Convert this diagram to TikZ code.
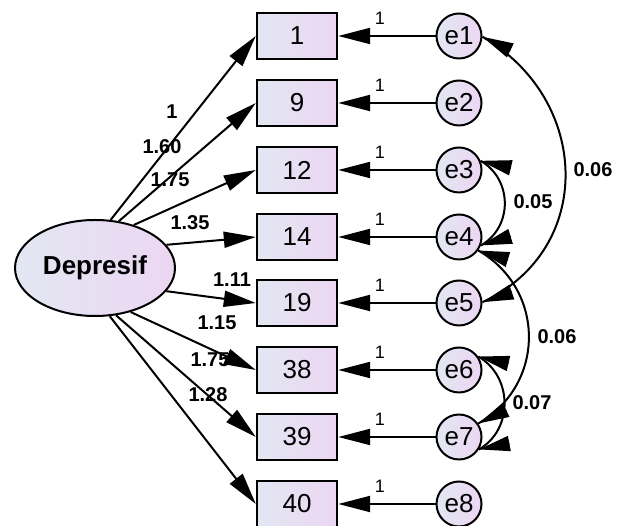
\documentclass[tikz,border=0pt]{standalone}
\usepackage{fontspec}
\setmainfont{Liberation Sans}
\usetikzlibrary{arrows.meta,shapes.geometric}
\definecolor{fillL}{RGB}{226,231,242}
\definecolor{fillR}{RGB}{236,214,242}
\begin{document}
\begin{tikzpicture}[x=1pt,y=1pt,
  obs/.style={draw,line width=2.4pt,minimum width=80pt,minimum height=46pt,inner sep=0pt,left color=fillL,right color=fillR,font=\fontsize{26}{26}\selectfont},
  err/.style={draw,circle,line width=2pt,minimum size=45pt,inner sep=0pt,left color=fillL,right color=fillR,font=\fontsize{26}{26}\selectfont},
  lat/.style={draw,ellipse,line width=2pt,minimum width=160pt,minimum height=96pt,inner sep=0pt,left color=fillL,right color=fillR,font=\bfseries\fontsize{26}{26}\selectfont},
  arr/.style={line width=2pt,-{Triangle[length=32pt,width=16pt]}},
  tip/.style={line width=2pt,-{Triangle[length=31pt,width=15pt]}},
  cov/.style={line width=2pt},
  lbl/.style={font=\bfseries\fontsize{20}{20}\selectfont,inner sep=0pt},
  one/.style={font=\fontsize{18}{18}\selectfont,inner sep=0pt}]
\useasboundingbox (0,0) rectangle (626,526);
% latent
\node[lat] (D) at (95,258) {Depresif};
% observed
\node[obs] (b1) at (297,490) {1};
\node[obs] (b9) at (297,423) {9};
\node[obs] (b12) at (297,356) {12};
\node[obs] (b14) at (297,289) {14};
\node[obs] (b19) at (297,223) {19};
\node[obs] (b38) at (297,156) {38};
\node[obs] (b39) at (297,89) {39};
\node[obs] (b40) at (297,22) {40};
% errors
\node[err] (e1) at (459,490) {e1};
\node[err] (e2) at (459,423) {e2};
\node[err] (e3) at (459,356) {e3};
\node[err] (e4) at (459,289) {e4};
\node[err] (e5) at (459,223) {e5};
\node[err] (e6) at (459,156) {e6};
\node[err] (e7) at (459,89) {e7};
\node[err] (e8) at (459,22) {e8};
% loadings
\draw[arr] (D.72) -- (b1.west);
\draw[arr] (D.63) -- (b9.west);
\draw[arr] (D.48) -- (b12.west);
\draw[arr] (D.18) -- (b14.west);
\draw[arr] (D.-18) -- (b19.west);
\draw[arr] (D.-51) -- (b38.west);
\draw[arr] (D.-66) -- (b39.west);
\draw[arr] (D.-73) -- (b40.west);
% error paths
\foreach \i/\b in {1/1,2/9,3/12,4/14,5/19,6/38,7/39,8/40}{
  \draw[arr] (e\i) -- (b\b);
}
% error path labels
\node[one] (o1) at (380,508) {1};
\node[one] (o2) at (380,441) {1};
\node[one] (o3) at (380,374) {1};
\node[one] (o4) at (380,307) {1};
\node[one] (o5) at (380,241) {1};
\node[one] (o6) at (380,174) {1};
\node[one] (o7) at (380,107) {1};
\node[one] (o8) at (380,40) {1};
% loading labels
\node[lbl] (l1) at (172,414) {1};
\node[lbl] (l9) at (162,379) {1.60};
\node[lbl] (l12) at (170,346) {1.75};
\node[lbl] (l14) at (190,303) {1.35};
\node[lbl] (l19) at (232,246) {1.11};
\node[lbl] (l38a) at (217,203) {1.15};
\node[lbl] (l38b) at (210,166) {1.75};
\node[lbl] (l39) at (208,131) {1.28};
% covariance curves
\draw[cov] (e1.-2) to[out=-30,in=25,distance=125pt] (e5.2);
\draw[cov] (e3.23) to[out=-30,in=30,distance=37pt] (e4.-21);
\draw[cov] (e4.-35) to[out=-30,in=30,distance=78pt] (e7.35);
\draw[cov] (e6.35) to[out=-30,in=30,distance=40pt] (e7.-32);
% covariance arrowheads
\path (e1.-2) ++(-26:31) coordinate (t1a);
\path (e5.2) ++(19:31) coordinate (t1b);
\path (e3.23) ++(-13:31) coordinate (t2a);
\path (e4.-21) ++(17:31) coordinate (t2b);
\path (e4.-35) ++(-17:31) coordinate (t3a);
\path (e7.35) ++(26:31) coordinate (t3b);
\path (e6.35) ++(-13:31) coordinate (t4a);
\path (e7.-32) ++(11:31) coordinate (t4b);
\draw[tip] (t1a) -- (e1.-2);
\draw[tip] (t1b) -- (e5.2);
\draw[tip] (t2a) -- (e3.23);
\draw[tip] (t2b) -- (e4.-21);
\draw[tip] (t3a) -- (e4.-35);
\draw[tip] (t3b) -- (e7.35);
\draw[tip] (t4a) -- (e6.35);
\draw[tip] (t4b) -- (e7.-32);
\node[lbl] (c15) at (593,356) {0.06};
\node[lbl] (c34) at (533,324) {0.05};
\node[lbl] (c47) at (557,189) {0.06};
\node[lbl] (c67) at (532,123) {0.07};
\end{tikzpicture}
\end{document}
